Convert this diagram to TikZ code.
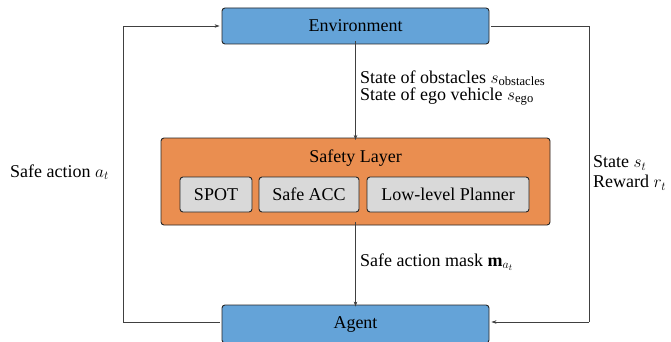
\documentclass[tikz,border=0pt]{standalone}
\usepackage{fontspec}
\setmainfont{Liberation Serif}
\usetikzlibrary{arrows.meta}
\definecolor{envblue}{RGB}{100,163,216}
\definecolor{safeorange}{RGB}{234,142,80}
\definecolor{modgray}{RGB}{217,217,217}
\begin{document}
\begin{tikzpicture}[x=1pt,y=-1pt,
  font=\fontsize{18}{17}\selectfont,
  bluebox/.style={draw=black!85,line width=0.9pt,rounded corners=3pt,fill=envblue,minimum width=267pt,minimum height=36pt,inner sep=0pt},
  orangebox/.style={draw=black!85,line width=0.9pt,rounded corners=3pt,fill=safeorange},
  modbox/.style={draw=black!85,line width=0.9pt,rounded corners=3pt,fill=modgray,minimum height=35pt,inner sep=0pt},
  conn/.style={draw=black!75,line width=0.6pt,-{Stealth[length=5pt,width=3.5pt]}},
  plain/.style={draw=black!75,line width=0.6pt},
  lbl/.style={inner sep=0pt,align=left,anchor=west}]
\useasboundingbox (0,0) rectangle (671,342);
\fill[white] (0,0) rectangle (671,342);
% Safety layer container
\draw[orangebox] (161,138) rectangle (550,225);
\node[inner sep=0pt] (sl) at (355.5,158) {Safety Layer};
\node[modbox,minimum width=72pt] (spot) at (216,194.5) {SPOT};
\node[modbox,minimum width=100pt] (acc) at (309,194.5) {Safe ACC};
\node[modbox,minimum width=162pt] (llp) at (448,194.5) {Low-level Planner};
\coordinate (sltop) at (355.5,138);
\coordinate (slbot) at (355.5,225);
% Environment and agent
\node[bluebox] (env) at (355.5,26) {Environment};
\node[bluebox,minimum height=38pt] (agent) at (355.5,324) {\raisebox{1.5pt}{Agent}};
% connectors
\draw[conn] ([yshift=3pt]env.south) -- ([yshift=-2pt]sltop);
\draw[conn] ([yshift=3pt]slbot) -- ([yshift=-2pt]agent.north);
\coordinate (lt) at (123,26);
\coordinate (lb) at (123,322);
\coordinate (rt) at (589,26);
\coordinate (rb) at (589,322);
\draw[plain] ([xshift=-2pt]agent.west |- lb) -- (lb) -- (lt);
\draw[conn] (lt) -- ([xshift=-2pt]env.west);
\draw[plain] ([xshift=2pt]env.east) -- (rt) -- (rb);
\draw[conn] (rb) -- ([xshift=2pt]agent.east |- rb);
% labels
\node[lbl] (l1) at (360,88) {State of obstacles $s_{\mathrm{obstacles}}$\\State of ego vehicle $s_{\mathrm{ego}}$};
\node[lbl] (l3) at (360,262) {Safe action mask $\mathbf{m}_{a_t}$};
\node[lbl] (l4) at (10,172) {Safe action $a_t$};
\node[lbl] (l5) at (593,173) {State $s_t$\\[3pt]Reward $r_t$};
\end{tikzpicture}
\end{document}
